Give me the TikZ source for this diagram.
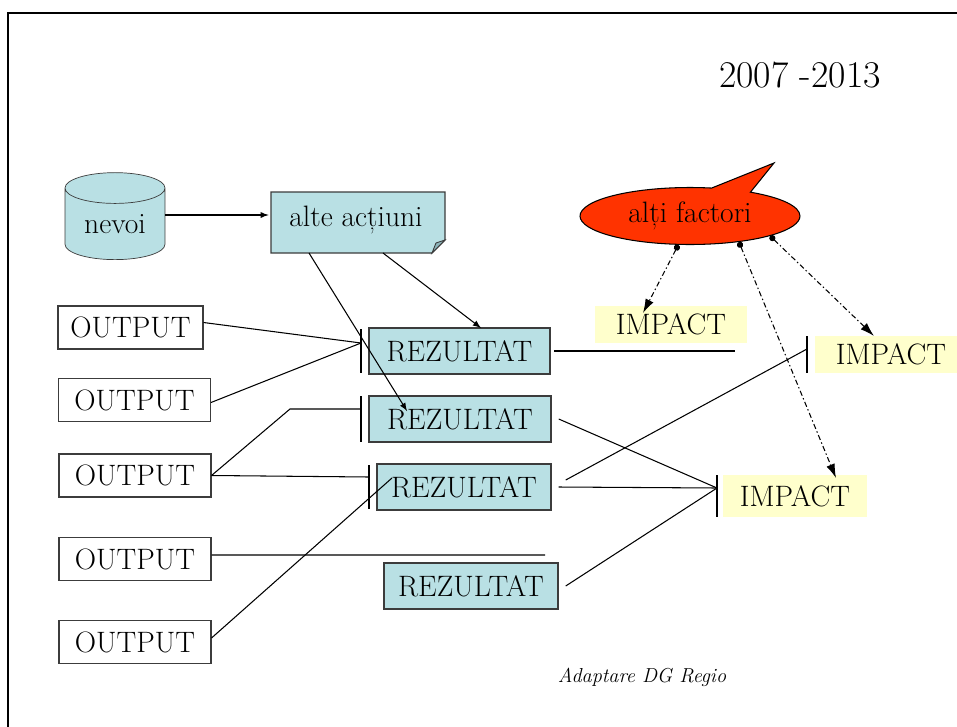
\documentclass[tikz,border=0pt]{standalone}
\usetikzlibrary{shapes.geometric,shapes.callouts,arrows.meta}

\definecolor{rezfill}{RGB}{185,224,228}
\definecolor{impfill}{RGB}{255,255,204}
\definecolor{factfill}{RGB}{255,51,0}
\definecolor{foldfill}{RGB}{140,180,186}
\definecolor{boxline}{RGB}{60,60,60}

\tikzset{
    txt/.style = {font=\fontsize{16.8}{20}\selectfont, inner sep=0pt},
    outbox/.style = {txt, draw=boxline, line width=0.6pt, fill=white, minimum height=0.86cm},
    rezbox/.style = {txt, draw=boxline, line width=0.8pt, fill=rezfill, minimum height=0.92cm},
    impbox/.style = {txt, fill=impfill, minimum height=0.74cm},
    link/.style = {line width=0.6pt},
    bar/.style = {line width=0.7pt},
    infl/.style = {line width=0.6pt, dash pattern=on 3pt off 1.5pt on 0.8pt off 1.5pt,
                   {Circle[length=3.5pt]}-{Latex[length=8pt,width=5pt]}}
}

\begin{document}
\begin{tikzpicture}[x=0.02cm, y=-0.02cm, >=latex]
    \useasboundingbox (0,0) rectangle (957,727);
    \draw [line width=1.7pt] (8,727) -- (8,13) -- (957,13);

    \node[font=\fontsize{21.5}{24}\selectfont] (yrs) at (800,75) {2007 -2013};

    % nevoi si actiuni
    \node[txt, cylinder, shape border rotate=90, aspect=0.5, draw=boxline, fill=rezfill,
          minimum height=1.74cm, minimum width=2cm] (nevoi) at (115,224) {nevoi};
    \fill [rezfill] (271,192) -- (445,192) -- (445,240) -- (432,253) -- (271,253) -- cycle;
    \draw [boxline, line width=0.7pt] (271,192) -- (445,192) -- (445,240) -- (432,253) -- (271,253) -- cycle;
    \draw [boxline, line width=0.5pt, fill=foldfill] (432,253) -- (436,243) -- (445,240) -- cycle;
    \node[txt, minimum width=3.48cm, minimum height=1.22cm] (alte) at (356,220) {alte acțiuni};

    \node[txt, ellipse callout, callout absolute pointer={(774,163)}, callout pointer arc=22,
          draw, line width=0.6pt, fill=factfill, minimum width=4.4cm, minimum height=1.14cm] (fact) at (690,216) {alți factori};

    % output
    \node[outbox, minimum width=2.9cm] (O1) at (130.5,327.5) {OUTPUT};
    \node[outbox, minimum width=3.04cm] (O2) at (134.5,400) {OUTPUT};
    \node[outbox, minimum width=3.04cm] (O3) at (135,475.5) {OUTPUT};
    \node[outbox, minimum width=3.04cm] (O4) at (135,559) {OUTPUT};
    \node[outbox, minimum width=3.04cm] (O5) at (135,642) {OUTPUT};

    % rezultat
    \node[rezbox, minimum width=3.62cm] (R1) at (459.5,351) {REZULTAT};
    \node[rezbox, minimum width=3.64cm] (R2) at (460,419) {REZULTAT};
    \node[rezbox, minimum width=3.48cm] (R3) at (464,487) {REZULTAT};
    \node[rezbox, minimum width=3.48cm] (R4) at (471,586) {REZULTAT};

    % impact
    \node[impbox, minimum width=3.04cm] (I1) at (671,324.5) {IMPACT};
    \node[impbox, minimum width=2.84cm, text width=2.84cm, align=center] (I2) at (886,354.5) {\hspace*{0.2cm}IMPACT};
    \node[impbox, minimum width=2.88cm, minimum height=0.84cm] (I3) at (795,496) {IMPACT};

    \node[font=\fontsize{11.5}{14}\selectfont\itshape] (src) at (642,677) {Adaptare DG Regio};

    % bare
    \draw [bar] (361,329) -- (361,373);
    \coordinate(J1) at (361,343);
    \draw [bar] (361,396) -- (361,442);
    \coordinate(J2) at (361,409);
    \draw [bar] (369,465) -- (369,509);
    \coordinate(J3) at (369,477);
    \draw [bar] (807,336) -- (807,373);
    \coordinate(J4) at (807,349);
    \draw [bar] (717,475) -- (717,517);
    \coordinate(J5) at (717,488);

    \coordinate(Ne) at (165,215);
    \coordinate(As1) at (309,253);
    \coordinate(As2) at (383,253);
    \coordinate(R2n) at (407,411);
    \coordinate(R1n) at (481,328);
    \coordinate(R3i) at (392,478);
    \coordinate(O4e) at (545,555);
    \coordinate(R1e) at (735,351);
    \coordinate(I1n) at (643,313);
    \coordinate(I2n) at (874,336);
    \coordinate(I3n) at (836,478);

    \draw [->, link] (Ne) -- (Ne -| alte.west);
    \draw [->, link] (As1) -- (R2n);
    \draw [->, link] (As2) -- (R1n);

    \draw [link] ([yshift=0.1cm]O1.east) -- (J1);
    \draw [link] ([yshift=-0.05cm]O2.east) -- (J1);
    \draw [link] (O3.east) -- (290,409) -- (J2);
    \draw [link] (O3.east) -- (J3);
    \draw [link] ([yshift=0.08cm]O4.east) -- (O4e);
    \draw [link] ([yshift=0.08cm]O5.east) -- (R3i);

    \draw [link] ([xshift=2pt]R1.east) -- (R1e);
    \draw [link] ([xshift=4pt]R2.east) -- (J5);
    \draw [link] ([xshift=4pt]R3.east) -- (J5);
    \draw [link] ([xshift=8pt,yshift=0.14cm]R3.east) -- (J4);
    \draw [link] ([xshift=4pt]R4.east) -- (J5);

    \draw [infl] (fact.-112) -- (I1n);
    \draw [infl] (fact.-28) -- (I3n);
    \draw [infl] (fact.-14) -- (I2n);
\end{tikzpicture}
\end{document}
